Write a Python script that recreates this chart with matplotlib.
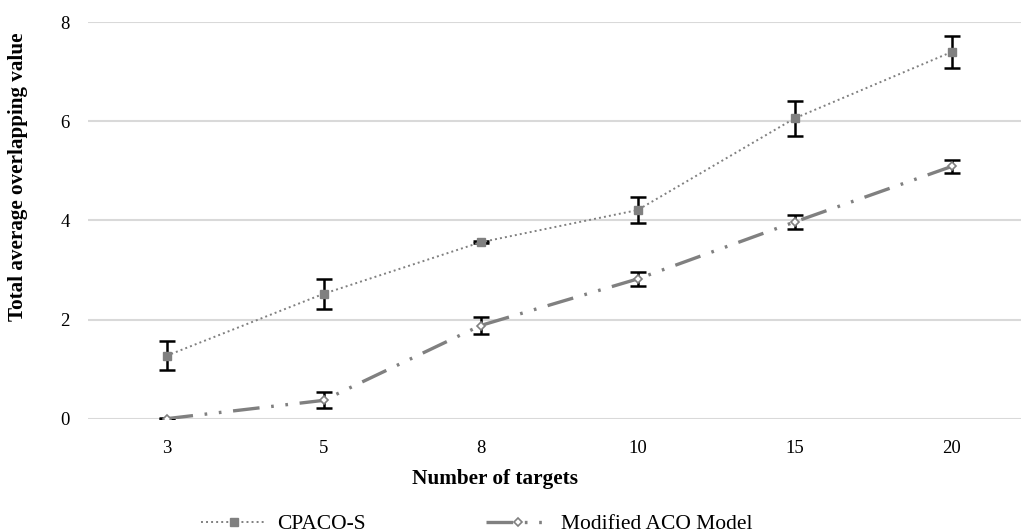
import numpy as np
import matplotlib
matplotlib.use("Agg")
import matplotlib.pyplot as plt

plt.rcParams['font.family'] = ['Liberation Serif', 'DejaVu Serif']

# data
targets = ['3', '5', '8', '10', '15', '20']
cpaco = [1.27, 2.52, 3.56, 4.21, 6.06, 7.40]
cpaco_err = [0.29, 0.30, 0.02, 0.27, 0.36, 0.33]
aco = [0.0, 0.37, 1.88, 2.82, 3.97, 5.09]
aco_err = [0.01, 0.16, 0.18, 0.14, 0.14, 0.14]

fig = plt.figure(figsize=(10.21, 5.32), dpi=100)
ax = fig.add_axes([88/1021, 1 - 418.7/532, 942/1021, 396.4/532])

x = np.arange(len(targets))

ax.errorbar(x, cpaco, yerr=cpaco_err, fmt='none', ecolor='black',
            elinewidth=1.8, capsize=5.5, capthick=1.8, zorder=3)
ax.errorbar(x, aco, yerr=aco_err, fmt='none', ecolor='black',
            elinewidth=1.8, capsize=5.5, capthick=1.8, zorder=3)

ax.plot(x, cpaco, color='#808080', linestyle=(0, (1, 1.6)), linewidth=1.4,
        marker='s', markersize=6, markerfacecolor='#808080',
        markeredgecolor='#808080', label='CPACO-S', zorder=4)
ax.plot(x, aco, color='#808080', linestyle=(0, (8, 3.5, 0.8, 3.5, 0.8, 3.5)),
        linewidth=2.4, marker='D', markersize=4, markerfacecolor='white',
        markeredgecolor='#808080', markeredgewidth=1.2,
        label='Modified ACO Model', zorder=4)

ax.set_xlim(-0.5, 5.5)
ax.set_ylim(0, 8)
ax.set_yticks([0, 2, 4, 6, 8])
ax.set_xticks(x)
ax.set_xticklabels(targets)
ax.grid(axis='y', color='#d9d9d9', linewidth=1.5)
ax.set_axisbelow(True)
for s in ax.spines.values():
    s.set_visible(False)
ax.tick_params(length=0, labelsize=13.5)
ax.tick_params(axis='x', pad=15)
ax.tick_params(axis='y', pad=13)

ax.set_xlabel('Number of targets', fontsize=15.3, fontweight='bold')
ax.xaxis.set_label_coords((495 - 88) / 942, -(469 - 418.7) / 396.4)
ax.set_ylabel('Total average overlapping value', fontsize=15.2, fontweight='bold')
ax.yaxis.set_label_coords(-(88 - 28) / 942, (418.7 - 177) / 396.4)

fig.legend(loc='center', bbox_to_anchor=(477/1021, 1 - 524/532), ncol=2,
           frameon=False, fontsize=15.5, handlelength=3.0, handletextpad=0.5,
           columnspacing=5.6)

fig.savefig('out.png', dpi=100)
